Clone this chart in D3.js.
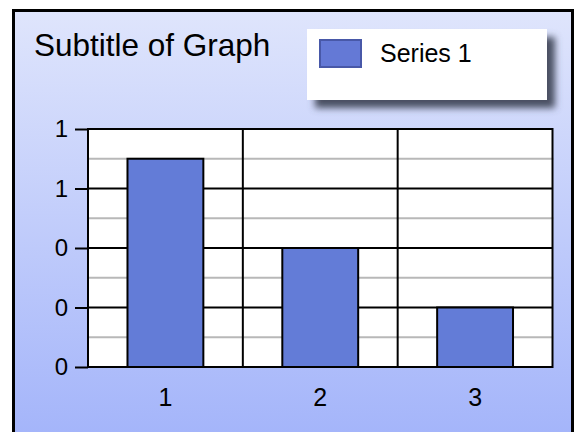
<!DOCTYPE html>
<html>
<head>
<meta charset="utf-8">
<script src="https://cdn.jsdelivr.net/npm/d3@7"></script>
<style>
  html, body { margin: 0; padding: 0; background: #ffffff; }
  svg { display: block; }
  text { font-family: "Liberation Sans", Arial, Helvetica, sans-serif; fill: #000; }
</style>
</head>
<body>
<svg id="chart" width="575" height="432"></svg>
<script>
const categories = ["1", "2", "3"];
const values = [0.7, 0.4, 0.2];
const majorTicks = [0, 0.2, 0.4, 0.6, 0.8];
const minorTicks = [0.1, 0.3, 0.5, 0.7];
const seriesName = "Series 1";
const title = "Subtitle of Graph";

const svg = d3.select("#chart");
const defs = svg.append("defs");

const grad = defs.append("linearGradient")
  .attr("id", "bg").attr("x1", 0).attr("y1", 0).attr("x2", 0).attr("y2", 1);
grad.append("stop").attr("offset", "0%").attr("stop-color", "#dfe5fc");
grad.append("stop").attr("offset", "100%").attr("stop-color", "#a2b3fa");

const shadow = defs.append("filter").attr("id", "shadow")
  .attr("x", "-20%").attr("y", "-30%").attr("width", "150%").attr("height", "180%");
shadow.append("feGaussianBlur").attr("stdDeviation", 3.5);

// background panel
svg.append("rect")
  .attr("x", 13.5).attr("y", 10.5).attr("width", 559).attr("height", 440)
  .attr("fill", "url(#bg)").attr("stroke", "#000").attr("stroke-width", 3);

// title
svg.append("text")
  .attr("x", 34).attr("y", 56)
  .attr("font-size", 31.5)
  .text(title);

// legend
svg.append("rect")
  .attr("x", 315).attr("y", 37).attr("width", 240).attr("height", 71)
  .attr("fill", "#4a4f62").attr("filter", "url(#shadow)");
svg.append("rect")
  .attr("x", 307).attr("y", 29).attr("width", 240).attr("height", 71)
  .attr("fill", "#ffffff");
svg.append("rect")
  .attr("x", 320).attr("y", 40).attr("width", 41).attr("height", 27)
  .attr("fill", "#6479d6").attr("stroke", "#4858a8").attr("stroke-width", 2);
svg.append("text")
  .attr("x", 380).attr("y", 62)
  .attr("font-size", 25)
  .text(seriesName);

// scales
const pLeft = 88, pRight = 552.5, pTop = 129, pBottom = 367;
const x = d3.scaleBand().domain(categories).range([pLeft, pRight]).padding(0);
const y = d3.scaleLinear().domain([0, 0.8]).range([pBottom, pTop]);

// plot area
svg.append("rect")
  .attr("x", pLeft).attr("y", pTop).attr("width", pRight - pLeft).attr("height", pBottom - pTop)
  .attr("fill", "#ffffff");

// minor gridlines
svg.append("g").selectAll("line").data(minorTicks).join("line")
  .attr("x1", pLeft).attr("x2", pRight + 1)
  .attr("y1", d => y(d)).attr("y2", d => y(d))
  .attr("stroke", "#b8b8b8").attr("stroke-width", 2);

// major gridlines
svg.append("g").selectAll("line").data(majorTicks).join("line")
  .attr("x1", pLeft).attr("x2", pRight)
  .attr("y1", d => y(d)).attr("y2", d => y(d))
  .attr("stroke", "#000").attr("stroke-width", 2);

// vertical category separators
svg.append("g").selectAll("line").data(categories.slice(1)).join("line")
  .attr("x1", d => x(d)).attr("x2", d => x(d))
  .attr("y1", pTop).attr("y2", pBottom)
  .attr("stroke", "#000").attr("stroke-width", 2);

// plot border
svg.append("rect")
  .attr("x", pLeft).attr("y", pTop).attr("width", pRight - pLeft).attr("height", pBottom - pTop)
  .attr("fill", "none").attr("stroke", "#000").attr("stroke-width", 2);

// bars
const barW = x.bandwidth() * 0.49;
svg.append("g").selectAll("rect").data(values).join("rect")
  .attr("x", (d, i) => x(categories[i]) + (x.bandwidth() - barW) / 2)
  .attr("y", d => y(d))
  .attr("width", barW)
  .attr("height", d => y(0) - y(d))
  .attr("fill", "#637cd7").attr("stroke", "#000").attr("stroke-width", 2);

// y axis
const yAxis = d3.axisLeft(y).tickValues(majorTicks).tickSize(13).tickPadding(7)
  .tickFormat(d3.format(".0f"));
const gy = svg.append("g").attr("transform", `translate(${pLeft},0)`).call(yAxis);
gy.select(".domain").remove();
gy.selectAll(".tick line").attr("stroke", "#000").attr("stroke-width", 2);
gy.selectAll(".tick text").attr("font-size", 24).attr("font-family", "Liberation Sans, Arial, sans-serif").attr("fill", "#000");

// x axis
const xAxis = d3.axisBottom(x).tickSize(0).tickPadding(21);
const gx = svg.append("g").attr("transform", `translate(0,${pBottom})`).call(xAxis);
gx.select(".domain").remove();
gx.selectAll(".tick text").attr("font-size", 25).attr("font-family", "Liberation Sans, Arial, sans-serif").attr("fill", "#000");
</script>
</body>
</html>
